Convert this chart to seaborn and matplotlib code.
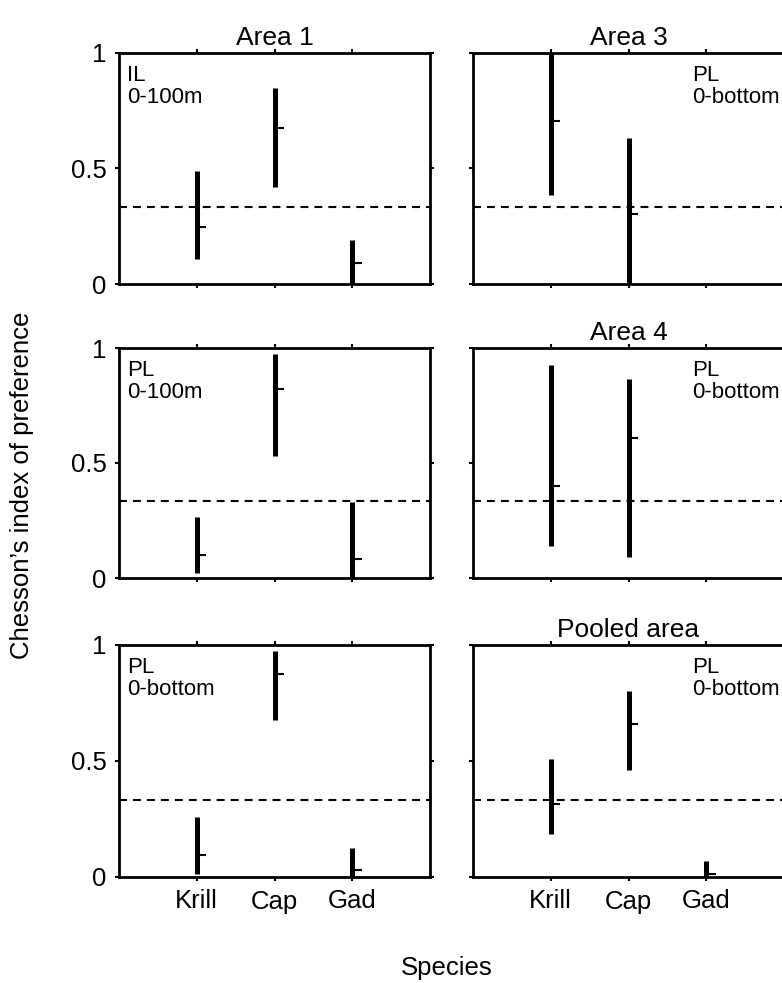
import matplotlib
matplotlib.use("Agg")
import matplotlib.pyplot as plt
import seaborn as sns
import pandas as pd

# ---- data ----
species = ["Krill", "Cap", "Gad"]
panels = ["Area 1", "Area 3", "PL 0-100m", "Area 4", "PL 0-bottom", "Pooled area"]
titles = ["Area 1", "Area 3", "", "Area 4", "", "Pooled area"]
notes = ["IL\n0-100m", "PL\n0-bottom", "PL\n0-100m", "PL\n0-bottom", "PL\n0-bottom", "PL\n0-bottom"]

lower = [
    [0.11, 0.42, 0.0],
    [0.385, 0.0, None],
    [0.02, 0.53, 0.0],
    [0.14, 0.09, None],
    [0.015, 0.675, 0.0],
    [0.185, 0.46, 0.0],
]
upper = [
    [0.49, 0.85, 0.19],
    [1.0, 0.63, None],
    [0.265, 0.975, 0.33],
    [0.925, 0.865, None],
    [0.26, 0.975, 0.125],
    [0.51, 0.80, 0.07],
]
means = [
    [0.245, 0.675, 0.092],
    [0.705, 0.305, None],
    [0.10, 0.82, 0.083],
    [0.40, 0.607, None],
    [0.096, 0.873, 0.029],
    [0.315, 0.658, 0.013],
]
ref_level = 1 / 3
yticks = [0, 0.5, 1]
yticklabels = ["0", "0.5", "1"]

# ---- style ----
sns.set_theme(style="ticks")
plt.rcParams["font.family"] = ["Liberation Sans", "DejaVu Sans"]
plt.rcParams["lines.solid_capstyle"] = "butt"
for k in ["text.color", "axes.labelcolor", "xtick.color", "ytick.color", "axes.edgecolor"]:
    plt.rcParams[k] = "black"

W, H = 782, 983
fig = plt.figure(figsize=(W / 100, H / 100), dpi=100)

col_x = [119, 473]
col_w = 311
row_y = [(53, 284), (348, 578), (645, 877)]

FS = 18.5
for i in range(6):
    r, c = divmod(i, 2)
    top, bot = row_y[r]
    ax = fig.add_axes([col_x[c] / W, 1 - bot / H, col_w / W, (bot - top) / H])

    rows_bar, rows_mean = [], []
    for j, sp in enumerate(species):
        if lower[i][j] is None:
            continue
        pos = j + 1
        rows_bar += [dict(species=sp, x=pos, y=lower[i][j]), dict(species=sp, x=pos, y=upper[i][j])]
        rows_mean += [dict(species=sp, x=pos, y=means[i][j]), dict(species=sp, x=pos + 0.12, y=means[i][j])]
    dfb = pd.DataFrame(rows_bar)
    dfm = pd.DataFrame(rows_mean)
    sns.lineplot(data=dfb, x="x", y="y", units="species", estimator=None, color="black",
                 lw=3.6, ax=ax, legend=False, sort=False)
    sns.lineplot(data=dfm, x="x", y="y", units="species", estimator=None, color="black",
                 lw=1.5, ax=ax, legend=False, sort=False)
    ax.axhline(ref_level, color="black", lw=1.5, dashes=(3.8, 2.9))

    ax.set_xlim(0, 4)
    ax.set_ylim(0, 1)
    ax.set_xticks([1, 2, 3])
    ax.set_yticks(yticks)
    ax.set_xlabel("")
    ax.set_ylabel("")
    ax.tick_params(direction="out", length=3, width=1.5, top=True, right=True,
                   labelsize=FS, colors="black", pad=6)
    if c == 0:
        ax.set_yticklabels(yticklabels)
    else:
        ax.set_yticklabels([])
    if r == 2:
        ax.set_xticklabels(species)
    else:
        ax.set_xticklabels([])
    for s in ax.spines.values():
        s.set_linewidth(2.0)
        s.set_color("black")
        s.set_visible(True)
    if titles[i]:
        ax.set_title(titles[i], fontsize=19, pad=6, color="black")

    xn = 0.025 if c == 0 else 0.705
    ax.text(xn, 0.95, notes[i], transform=ax.transAxes, ha="left", va="top",
            fontsize=16, linespacing=1.1, color="black")

fig.text(22 / W, 1 - 485 / H, "Chesson\u2019s index of preference", rotation=90,
         ha="center", va="center", fontsize=FS, color="black")
fig.text(447 / W, 1 - 968 / H, "Species", ha="center", va="center", fontsize=FS, color="black")

fig.savefig("out.png", dpi=100)
